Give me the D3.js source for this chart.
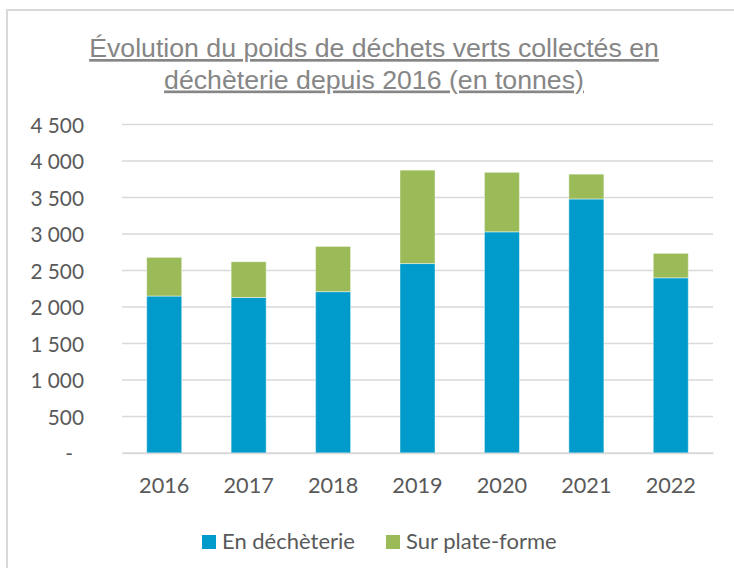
<!DOCTYPE html>
<html>
<head>
<meta charset="utf-8">
<script src="https://cdn.jsdelivr.net/npm/d3@7"></script>
<style>
  body { margin: 0; background: #fff; }
  svg { display: block; }
</style>
</head>
<body>
<div id="chart"></div>
<script>
// values (tonnes)
const years = ["2016", "2017", "2018", "2019", "2020", "2021", "2022"];
const enDecheterie = [2150, 2130, 2210, 2595, 3030, 3480, 2400];
const surPlateforme = [530, 490, 620, 1280, 815, 340, 335];
const seriesNames = ["En déchèterie", "Sur plate-forme"];
const seriesColors = ["#009BCB", "#9BBB59"];
const yTicks = [0, 500, 1000, 1500, 2000, 2500, 3000, 3500, 4000, 4500];
const titleLines = ["Évolution du poids de déchets verts collectés en", "déchèterie depuis 2016 (en tonnes)"];

const width = 734;
const height = 568;
const plot = {left: 122, right: 713, top: 124.5, bottom: 453};
const labelFont = "Lato, 'Open Sans', sans-serif";

const svg = d3.select("#chart").append("svg")
    .attr("width", width)
    .attr("height", height);

// chart frame (only left and top edges are visible in the picture)
svg.append("rect")
    .attr("x", 7)
    .attr("y", 10)
    .attr("width", width + 10)
    .attr("height", height + 10)
    .attr("fill", "none")
    .attr("stroke", "#D9D9D9")
    .attr("stroke-width", 2);

// title
svg.append("g")
    .selectAll("text")
    .data(titleLines)
    .enter()
    .append("text")
    .attr("x", 374)
    .attr("y", (d, i) => 57 + i * 31.5)
    .attr("text-anchor", "middle")
    .attr("font-family", "'Liberation Sans', Arial, sans-serif")
    .attr("font-size", 26.7)
    .attr("fill", "#868686")
    .attr("text-decoration", "underline")
    .text((d) => d);

const x = d3.scaleBand()
    .domain(years)
    .range([plot.left, plot.right])
    .paddingInner(0.585)
    .paddingOuter(0.2925);

const y = d3.scaleLinear()
    .domain([0, 4500])
    .range([plot.bottom, plot.top]);

// gridlines
svg.append("g")
    .attr("class", "grid")
    .selectAll("line")
    .data(yTicks)
    .enter()
    .append("line")
    .attr("x1", plot.left)
    .attr("x2", plot.right)
    .attr("y1", (d) => y(d))
    .attr("y2", (d) => y(d))
    .attr("stroke", "#D9D9D9")
    .attr("stroke-width", 1.5);

// y axis labels
const yAxis = d3.axisLeft(y)
    .tickValues(yTicks)
    .tickSize(0)
    .tickPadding(0)
    .tickFormat((d) => d === 0 ? "-" : d3.format(",")(d).replace(",", " "));

const yg = svg.append("g")
    .attr("transform", "translate(84,0)")
    .call(yAxis);
yg.select(".domain").remove();
yg.selectAll("text")
    .attr("font-family", labelFont)
    .attr("font-size", 20.8)
    .attr("fill", "#595959")
    .attr("dy", "0.36em")
    .attr("dx", (d) => d === 0 ? -11 : 0);

// stacked bars
const rows = years.map((yr, i) => ({year: yr, "En déchèterie": enDecheterie[i], "Sur plate-forme": surPlateforme[i]}));
const stacked = d3.stack().keys(seriesNames)(rows);

svg.append("g")
    .selectAll("g")
    .data(stacked)
    .enter()
    .append("g")
    .attr("fill", (d, i) => seriesColors[i])
    .selectAll("rect")
    .data((d) => d)
    .enter()
    .append("rect")
    .attr("x", (d) => x(d.data.year))
    .attr("width", x.bandwidth())
    .attr("y", (d) => y(d[1]))
    .attr("height", (d) => y(d[0]) - y(d[1]))
    .attr("stroke", "rgba(255,255,255,0.45)")
    .attr("stroke-width", 1);

// x axis
const xAxis = d3.axisBottom(x).tickSize(0).tickPadding(0);
const xg = svg.append("g")
    .attr("transform", `translate(0,${plot.bottom})`)
    .call(xAxis);
xg.select(".domain")
    .attr("stroke", "#D9D9D9")
    .attr("stroke-width", 1.5);
xg.selectAll("text")
    .attr("font-family", labelFont)
    .attr("font-size", 21.7)
    .attr("fill", "#595959")
    .attr("y", 39.5)
    .attr("dy", 0);

// legend
const legendX = [202, 386];
const legend = svg.append("g")
    .selectAll("g")
    .data(seriesNames)
    .enter()
    .append("g")
    .attr("transform", (d, i) => `translate(${legendX[i]},535)`);

legend.append("rect")
    .attr("width", 14)
    .attr("height", 14)
    .attr("fill", (d, i) => seriesColors[i]);

legend.append("text")
    .attr("x", 20)
    .attr("y", 13.5)
    .attr("font-family", labelFont)
    .attr("font-size", 22)
    .attr("fill", "#595959")
    .text((d) => d);
</script>
</body>
</html>
